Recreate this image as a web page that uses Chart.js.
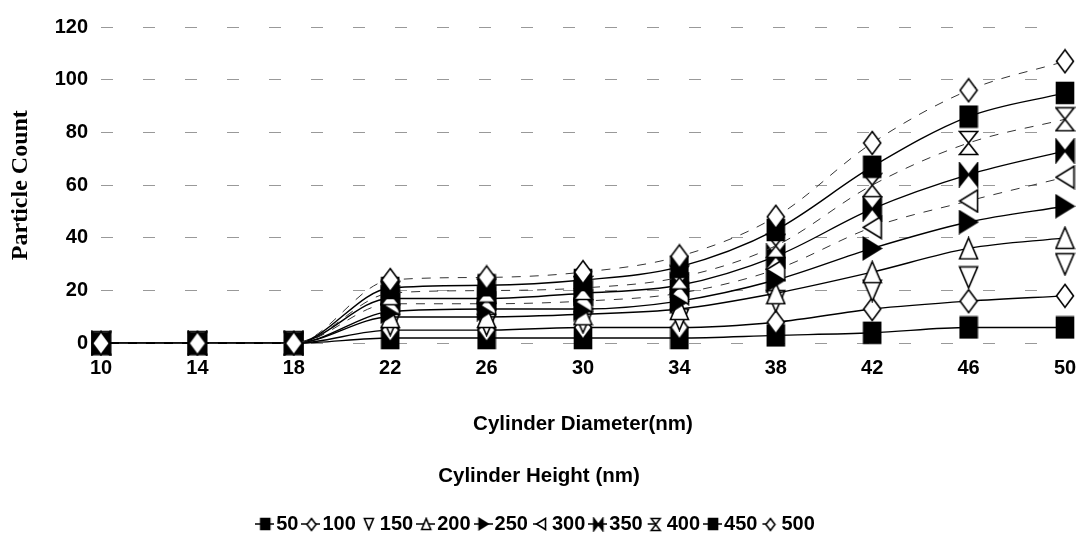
<!DOCTYPE html>
<html>
<head>
<meta charset="utf-8">
<script src="https://cdn.jsdelivr.net/npm/chart.js@4.4.1/dist/chart.umd.min.js"></script>
<style>
  html, body { margin: 0; padding: 0; background: #fff; }
  canvas { display: block; }
</style>
</head>
<body>
<canvas id="particleChart" width="1078" height="535"></canvas>
<script>
// cylinder diameters (nm) on the x axis
const diameters = ['10', '14', '18', '22', '26', '30', '34', '38', '42', '46', '50'];
// cylinder heights (nm), one series each
const heights = ['50', '100', '150', '200', '250', '300', '350', '400', '450', '500'];

// particle counts per diameter
const h50  = [0, 0, 0, 2, 2, 2, 2, 3, 4, 6, 6];
const h100 = [0, 0, 0, 5, 5, 6, 6, 8, 13, 16, 18];
const h150 = [0, 0, 0, 7, 7, 8, 9, 16, 20, 25, 30];
const h200 = [0, 0, 0, 10, 10, 11, 13, 19, 27, 36, 40];
const h250 = [0, 0, 0, 12, 13, 13, 16, 24, 36, 46, 52];
const h300 = [0, 0, 0, 15, 15, 16, 19, 28, 44, 54, 63];
const h350 = [0, 0, 0, 17, 17, 19, 22, 33, 51, 64, 73];
const h400 = [0, 0, 0, 19, 20, 21, 25, 37, 60, 76, 85];
const h450 = [0, 0, 0, 21, 22, 24, 29, 43, 67, 86, 95];
const h500 = [0, 0, 0, 24, 25, 27, 33, 48, 76, 96, 107];

const yTicks = [0, 20, 40, 60, 80, 100, 120];

const series = [h50, h100, h150, h200, h250, h300, h350, h400, h450, h500];

// marker shape, filled?, line style for each height
const looks = [
    { shape: 'square',   fill: true,  line: 'solid' },
    { shape: 'diamond',  fill: false, line: 'solid' },
    { shape: 'triDown',  fill: false, line: 'none' },
    { shape: 'triUp',    fill: false, line: 'solid' },
    { shape: 'triRight', fill: true,  line: 'solid' },
    { shape: 'triLeft',  fill: false, line: 'dash' },
    { shape: 'bowtie',   fill: true,  line: 'solid' },
    { shape: 'hourglass',fill: false, line: 'dash' },
    { shape: 'square',   fill: true,  line: 'solid' },
    { shape: 'diamond',  fill: false, line: 'dash' }
];

const sizes = {
    square: [17, 21], diamond: [17, 23], triDown: [18, 21], triUp: [18, 21],
    triRight: [18, 22], triLeft: [18, 22], bowtie: [18, 23], hourglass: [18, 23]
};

function tracePath(g, shape, w, h) {
    switch (shape) {
        case 'square':
            g.rect(0, 0, w, h);
            break;
        case 'diamond':
            g.moveTo(w / 2, 0); g.lineTo(w, h / 2); g.lineTo(w / 2, h); g.lineTo(0, h / 2); g.closePath();
            break;
        case 'triDown':
            g.moveTo(0, 0); g.lineTo(w, 0); g.lineTo(w / 2, h); g.closePath();
            break;
        case 'triUp':
            g.moveTo(w / 2, 0); g.lineTo(w, h); g.lineTo(0, h); g.closePath();
            break;
        case 'triRight':
            g.moveTo(0, 0); g.lineTo(w, h / 2); g.lineTo(0, h); g.closePath();
            break;
        case 'triLeft':
            g.moveTo(w, 0); g.lineTo(0, h / 2); g.lineTo(w, h); g.closePath();
            break;
        case 'bowtie':
            g.moveTo(0, 0); g.lineTo(w / 2, h / 2); g.lineTo(0, h); g.closePath();
            g.moveTo(w, 0); g.lineTo(w / 2, h / 2); g.lineTo(w, h); g.closePath();
            break;
        case 'hourglass':
            g.moveTo(0, 0); g.lineTo(w, 0); g.lineTo(w / 2, h / 2); g.closePath();
            g.moveTo(0, h); g.lineTo(w, h); g.lineTo(w / 2, h / 2); g.closePath();
            break;
    }
}

// marker image used on the plot
function makeMarker(look, scale) {
    const [w0, h0] = sizes[look.shape];
    const w = Math.round(w0 * scale), h = Math.round(h0 * scale);
    const c = document.createElement('canvas');
    c.width = w + 3; c.height = h + 3;
    const g = c.getContext('2d');
    g.translate(1.5, 1.5);
    g.lineWidth = 1.6;
    g.strokeStyle = '#000';
    g.fillStyle = look.fill ? '#000' : '#fff';
    g.beginPath();
    tracePath(g, look.shape, w, h);
    g.fill();
    g.stroke();
    return c;
}

// legend symbol: short line with a small marker on it
function makeLegendSymbol(look) {
    const m = makeMarker(look, 0.5);
    const c = document.createElement('canvas');
    c.width = 19; c.height = 16;
    const g = c.getContext('2d');
    if (look.line !== 'none') {
        g.strokeStyle = '#000';
        g.lineWidth = 1.5;
        g.beginPath();
        g.moveTo(look.line === 'dash' ? 2 : 0, 8);
        g.lineTo(look.line === 'dash' ? 9 : 19, 8);
        g.stroke();
    }
    g.drawImage(m, Math.round((19 - m.width) / 2), Math.round((16 - m.height) / 2));
    return c;
}

const markers = looks.map(l => makeMarker(l, 1));
const legendSymbols = looks.map(makeLegendSymbol);

const datasets = heights.map((h, i) => {
    const look = looks[i];
    return {
        label: h,
        data: series[i],
        // taller heights are painted over the shorter ones
        order: heights.length - i,
        borderColor: look.line === 'dash' ? '#333' : '#000',
        borderWidth: look.line === 'dash' ? 1 : 1.4,
        borderDash: look.line === 'dash' ? [9, 9] : [],
        showLine: look.line !== 'none',
        pointStyle: markers[i],
        pointRadius: 9,
        pointHoverRadius: 9,
        cubicInterpolationMode: 'monotone',
        fill: false,
        clip: false
    };
});

const sansFamily = "'Liberation Sans', Arial, sans-serif";
const tickFont = { family: sansFamily, size: 20, weight: 'bold' };
const titleFont = { family: sansFamily, size: 20.5, weight: 'bold' };

const ctx = document.getElementById('particleChart').getContext('2d');
new Chart(ctx, {
    type: 'line',
    data: { labels: diameters, datasets: datasets },
    options: {
        responsive: false,
        animation: false,
        devicePixelRatio: 1,
        layout: { padding: { top: 27, right: 0, bottom: -9, left: 0 } },
        scales: {
            x: {
                offset: false,
                afterFit: s => { s.paddingLeft = 0; s.paddingRight = 13; },
                grid: { display: false, drawTicks: false },
                border: { display: false },
                ticks: { color: '#000', font: tickFont, padding: 13, maxRotation: 0, autoSkip: false },
                title: {
                    display: true,
                    text: 'Cylinder Diameter(nm)',
                    color: '#000',
                    font: titleFont,
                    padding: { top: 19, bottom: 0 }
                }
            },
            y: {
                min: 0,
                max: 120,
                afterBuildTicks: s => { s.ticks = yTicks.map(v => ({ value: v })); },
                afterFit: s => { s.width = 101; },
                grid: { color: '#999', lineWidth: 1, drawTicks: false },
                border: { display: false, dash: [12, 30] },
                ticks: { color: '#000', font: tickFont, padding: 13 },
                title: {
                    display: true,
                    text: 'Particle Count',
                    color: '#000',
                    font: { family: "'Liberation Serif', 'Times New Roman', serif", size: 24, weight: 'bold' },
                    padding: { top: 6, bottom: 0 }
                }
            }
        },
        plugins: {
            tooltip: { enabled: false },
            legend: {
                position: 'bottom',
                title: {
                    display: true,
                    text: 'Cylinder Height (nm)',
                    color: '#000',
                    font: titleFont,
                    padding: { top: 29, bottom: 12.5 }
                },
                labels: {
                    color: '#000',
                    font: tickFont,
                    usePointStyle: true,
                    pointStyleWidth: 3,
                    padding: 11,
                    sort: (a, b) => a.datasetIndex - b.datasetIndex,
                    generateLabels: chart => {
                        const items = Chart.defaults.plugins.legend.labels.generateLabels(chart);
                        items.forEach(it => {
                            it.pointStyle = legendSymbols[it.datasetIndex];
                            it.rotation = 0;
                        });
                        return items;
                    }
                }
            }
        }
    }
});
</script>
</body>
</html>
